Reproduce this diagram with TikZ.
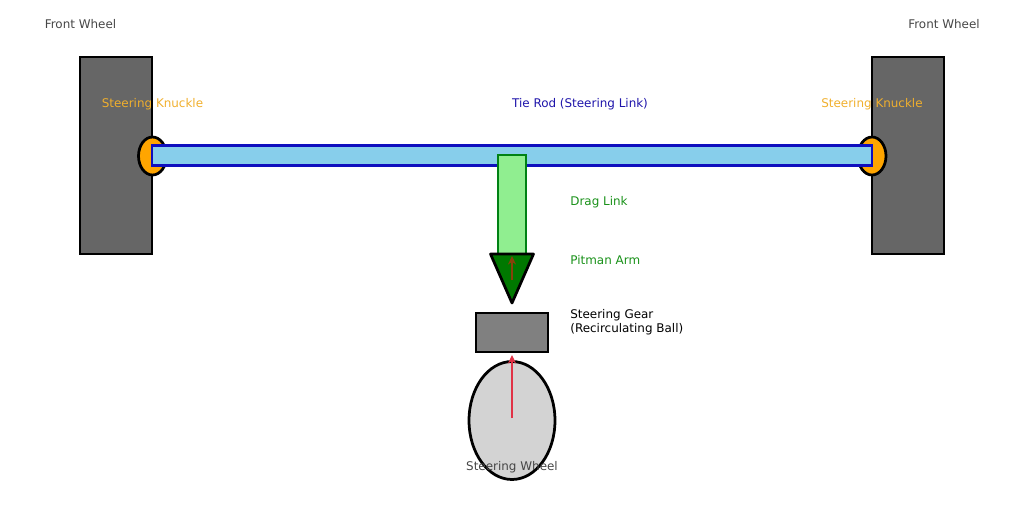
\documentclass[tikz,border=0pt]{standalone}
\usepackage{fontspec}
\setmainfont{DejaVu Sans}
\usetikzlibrary{shapes.geometric,arrows.meta}
\definecolor{wheelgray}{RGB}{102,102,102}
\definecolor{knuckleorange}{RGB}{255,165,0}
\definecolor{rodblue}{RGB}{135,206,235}
\definecolor{rodedge}{RGB}{15,15,190}
\definecolor{linkgreen}{RGB}{144,238,144}
\definecolor{linkedge}{RGB}{0,130,20}
\definecolor{armgreen}{RGB}{0,120,0}
\definecolor{wheelfill}{RGB}{211,211,211}
\definecolor{labelgray}{RGB}{70,70,70}
\definecolor{labelorange}{RGB}{240,175,45}
\definecolor{labelblue}{RGB}{30,20,170}
\definecolor{labelgreen}{RGB}{25,145,25}
\definecolor{arrowred}{RGB}{225,50,70}
\definecolor{armred}{RGB}{135,65,10}
\tikzset{
  box/.style={rectangle,draw,line width=.055cm,inner sep=0pt},
  textlabel/.style={inner sep=0pt,font=\fontsize{6.8pt}{7.97pt}\selectfont},
  side/.style={textlabel,anchor=west,align=left},
  turn/.style={-{Stealth[length=.17cm,width=.16cm]},line width=.025cm}
}
\begin{document}
\begin{tikzpicture}[x=.02cm,y=-.02cm]
  \useasboundingbox (0,0) rectangle (1024,508);
  \node(wheelL)[box,fill=wheelgray,minimum width=1.44cm,minimum height=3.94cm] at (116,155.5){};
  \node(wheelR)[box,fill=wheelgray,minimum width=1.44cm,minimum height=3.94cm] at (908,155.5){};
  \node(knuckleL)[ellipse,draw,line width=.055cm,inner sep=0pt,fill=knuckleorange,minimum width=.56cm,minimum height=.76cm] at (152.5,156){};
  \node(knuckleR)[ellipse,draw,line width=.055cm,inner sep=0pt,fill=knuckleorange,minimum width=.56cm,minimum height=.76cm] at (872,156){};
  \node(rod)[box,draw=rodedge,fill=rodblue,minimum width=14.4cm,minimum height=.39cm] at (512,155.5){};
  \node(drag)[box,line width=.05cm,draw=linkedge,fill=linkgreen,minimum width=.56cm,minimum height=1.98cm] at (512,204.5){};
  \coordinate(armL) at (490.5,254);
  \coordinate(armR) at (533.5,254);
  \coordinate(armT) at (512,303);
  \draw[line width=.055cm,line join=round,fill=armgreen] (armL) -- (armR) -- (armT) -- cycle;
  \node(gear)[box,fill=gray,minimum width=1.44cm,minimum height=.78cm] at (512,332.5){};
  \node(steer)[ellipse,draw,line width=.055cm,inner sep=0pt,fill=wheelfill,minimum width=1.72cm,minimum height=2.36cm] at (512,420.5){};
  \coordinate(turnA) at (512,418);
  \coordinate(turnB) at (512,355);
  \coordinate(armA) at (512,280);
  \coordinate(armB) at (512,256);
  \draw[turn,arrowred] (turnA) -- (turnB);
  \draw[turn,armred] (armA) -- (armB);
  \node(frontL)[textlabel,text=labelgray] at (80.5,24.5){Front Wheel};
  \node(frontR)[textlabel,text=labelgray] at (944,24.5){Front Wheel};
  \node(textL)[textlabel,text=labelorange] at (152.5,104){Steering Knuckle};
  \node(textR)[textlabel,text=labelorange] at (872,104){Steering Knuckle};
  \node(textrod)[textlabel,text=labelblue] at (580,104){Tie Rod (Steering Link)};
  \node(textdrag)[side,text=labelgreen] at (570,202){Drag Link};
  \node(textarm)[side,text=labelgreen] at (570,260){Pitman Arm};
  \node(textgear)[side] at (570,322){Steering Gear\\(Recirculating Ball)};
  \node(textsteer)[textlabel,text=labelgray] at (512,467){Steering Wheel};
\end{tikzpicture}
\end{document}
